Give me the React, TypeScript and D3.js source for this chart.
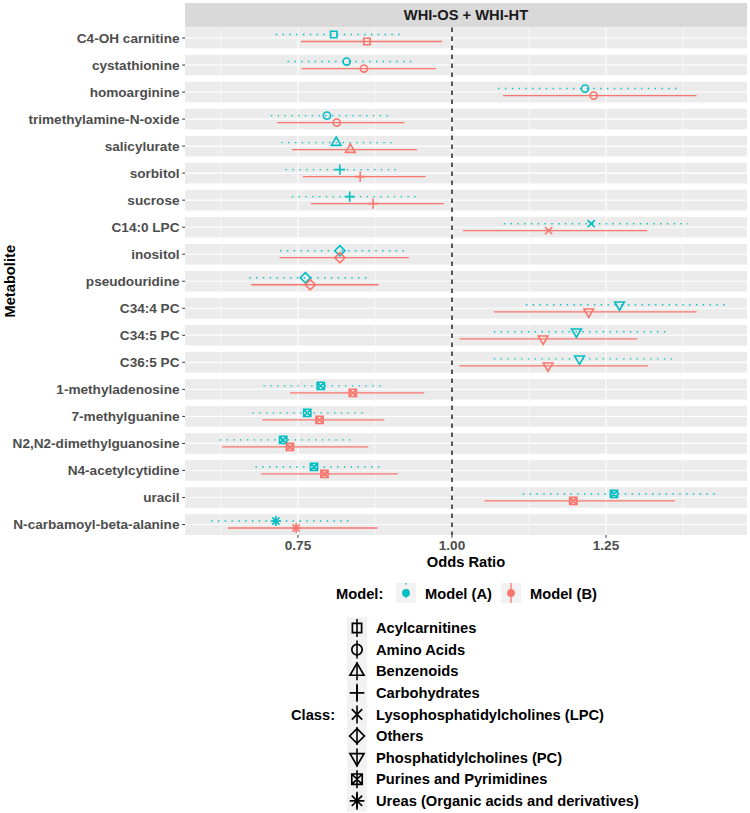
import React from "react";
import * as d3 from "d3";

const metabolites = [
  "C4-OH carnitine",
  "cystathionine",
  "homoarginine",
  "trimethylamine-N-oxide",
  "salicylurate",
  "sorbitol",
  "sucrose",
  "C14:0 LPC",
  "inositol",
  "pseudouridine",
  "C34:4 PC",
  "C34:5 PC",
  "C36:5 PC",
  "1-methyladenosine",
  "7-methylguanine",
  "N2,N2-dimethylguanosine",
  "N4-acetylcytidine",
  "uracil",
  "N-carbamoyl-beta-alanine",
];

const metaboliteClass = [
  "Acylcarnitines",
  "Amino Acids",
  "Amino Acids",
  "Amino Acids",
  "Benzenoids",
  "Carbohydrates",
  "Carbohydrates",
  "Lysophosphatidylcholines (LPC)",
  "Others",
  "Others",
  "Phosphatidylcholines (PC)",
  "Phosphatidylcholines (PC)",
  "Phosphatidylcholines (PC)",
  "Purines and Pyrimidines",
  "Purines and Pyrimidines",
  "Purines and Pyrimidines",
  "Purines and Pyrimidines",
  "Purines and Pyrimidines",
  "Ureas (Organic acids and derivatives)",
];

// Model (A)
const orA = [0.808, 0.829, 1.216, 0.797, 0.812, 0.818, 0.834, 1.226, 0.818, 0.762, 1.272, 1.202, 1.207, 0.787, 0.765, 0.726, 0.776, 1.263, 0.714];
const loA = [0.714, 0.733, 1.075, 0.706, 0.723, 0.730, 0.740, 1.084, 0.721, 0.671, 1.120, 1.068, 1.068, 0.694, 0.676, 0.623, 0.681, 1.115, 0.609];
const hiA = [0.915, 0.937, 1.373, 0.899, 0.908, 0.915, 0.941, 1.383, 0.923, 0.864, 1.444, 1.350, 1.358, 0.888, 0.861, 0.843, 0.882, 1.430, 0.837];
// Model (B)
const orB = [0.862, 0.857, 1.230, 0.813, 0.835, 0.851, 0.872, 1.157, 0.818, 0.770, 1.222, 1.148, 1.156, 0.839, 0.785, 0.737, 0.793, 1.197, 0.747];
const loB = [0.755, 0.756, 1.083, 0.716, 0.740, 0.758, 0.771, 1.018, 0.720, 0.674, 1.068, 1.012, 1.012, 0.737, 0.692, 0.627, 0.690, 1.053, 0.636];
const hiB = [0.984, 0.974, 1.397, 0.923, 0.943, 0.957, 0.987, 1.317, 0.930, 0.881, 1.397, 1.301, 1.318, 0.955, 0.890, 0.864, 0.912, 1.362, 0.879];

const classNames = [
  "Acylcarnitines",
  "Amino Acids",
  "Benzenoids",
  "Carbohydrates",
  "Lysophosphatidylcholines (LPC)",
  "Others",
  "Phosphatidylcholines (PC)",
  "Purines and Pyrimidines",
  "Ureas (Organic acids and derivatives)",
];
const classShapes = ["square", "circle", "triUp", "plus", "times", "diamond", "triDown", "squareX", "asterisk"];

const modelNames = ["Model (A)", "Model (B)"];
const modelColors = ["#00BFC4", "#F8766D"];

const majorTicks = [0.75, 1.0, 1.25];
const majorTickLabels = ["0.75", "1.00", "1.25"];
const minorTicks = [0.625, 0.875, 1.125, 1.375];

const FONT = "'Liberation Sans', Arial, Helvetica, sans-serif";

function shapePath(kind: string, R: number): string {
  const f = (n: number) => n.toFixed(2);
  switch (kind) {
    case "square": {
      const h = 0.886 * R;
      return `M${f(-h)},${f(-h)}H${f(h)}V${f(h)}H${f(-h)}Z`;
    }
    case "circle":
      return `M${f(R)},0A${f(R)},${f(R)} 0 1,1 ${f(-R)},0A${f(R)},${f(R)} 0 1,1 ${f(R)},0Z`;
    case "triUp": {
      const t = 1.555 * R, b = 0.778 * R, w = 1.347 * R;
      return `M0,${f(-t)}L${f(w)},${f(b)}L${f(-w)},${f(b)}Z`;
    }
    case "triDown": {
      const t = 1.555 * R, b = 0.778 * R, w = 1.347 * R;
      return `M0,${f(t)}L${f(w)},${f(-b)}L${f(-w)},${f(-b)}Z`;
    }
    case "plus": {
      const a = 1.414 * R;
      return `M${f(-a)},0H${f(a)}M0,${f(-a)}V${f(a)}`;
    }
    case "times":
      return `M${f(-R)},${f(-R)}L${f(R)},${f(R)}M${f(-R)},${f(R)}L${f(R)},${f(-R)}`;
    case "diamond": {
      const a = 1.414 * R;
      return `M0,${f(-a)}L${f(a)},0L0,${f(a)}L${f(-a)},0Z`;
    }
    case "squareX":
      return `M${f(-R)},${f(-R)}H${f(R)}V${f(R)}H${f(-R)}Z M${f(-R)},${f(-R)}L${f(R)},${f(R)}M${f(-R)},${f(R)}L${f(R)},${f(-R)}`;
    case "asterisk": {
      const a = 1.414 * R;
      return `M${f(-R)},${f(-R)}L${f(R)},${f(R)}M${f(-R)},${f(R)}L${f(R)},${f(-R)}M${f(-a)},0H${f(a)}M0,${f(-a)}V${f(a)}`;
    }
  }
  return "";
}

export default function App() {
  const W = 750, H = 813;
  const panelL = 185, panelR = 747, panelT = 27.5, panelB = 535;
  const x = d3.scaleLinear().domain([0.5666, 1.4789]).range([panelL, panelR]);
  const y = d3.scalePoint<string>().domain(metabolites).range([38, 524.5]);
  const step = y.step();
  const bandHalf = 10.3;
  const dodge = 3.5;
  const shapeOf = (c: string) => classShapes[classNames.indexOf(c)];

  const plotR = 3.6;
  const legR = 5.2;

  const classRowY = (i: number) => 628 + i * 21.6;

  return (
    <svg width={W} height={H} style={{ position: "absolute", left: 0, top: 0, background: "#fff" }} fontFamily={FONT} fontWeight="bold">
      {/* strip */}
      <rect x={panelL} y={3} width={panelR - panelL} height={24.3} fill="#D9D9D9" />
      <text x={(panelL + panelR) / 2} y={20.2} textAnchor="middle" fontSize={14.7} fill="#1A1A1A">WHI-OS + WHI-HT</text>

      {/* panel background */}
      <rect x={panelL} y={panelT} width={panelR - panelL} height={panelB - panelT} fill="#EBEBEB" />
      {/* vertical grid */}
      {minorTicks.map((t) => (
        <line key={"mn" + t} x1={x(t)} x2={x(t)} y1={panelT} y2={panelB} stroke="#fff" strokeWidth={0.6} />
      ))}
      {majorTicks.map((t) => (
        <line key={"mj" + t} x1={x(t)} x2={x(t)} y1={panelT} y2={panelB} stroke="#fff" strokeWidth={1.1} />
      ))}
      {/* horizontal grid at categories */}
      {metabolites.map((m) => (
        <line key={"hg" + m} x1={panelL} x2={panelR} y1={y(m)!} y2={y(m)!} stroke="#fff" strokeWidth={1.1} />
      ))}
      {/* white gaps between metabolite bands */}
      {metabolites.slice(0, -1).map((m) => (
        <rect key={"gap" + m} x={panelL} y={y(m)! + bandHalf} width={panelR - panelL} height={step - 2 * bandHalf} fill="#fff" />
      ))}

      {/* reference line */}
      <line x1={x(1)} x2={x(1)} y1={panelT} y2={panelB} stroke="#000" strokeWidth={1.3} strokeDasharray="4.5 4.5" />

      {/* estimates */}
      {metabolites.map((m, i) => {
        const cy = y(m)!;
        const shp = shapeOf(metaboliteClass[i]);
        const yA = cy - dodge, yB = cy + dodge;
        return (
          <g key={"est" + m}>
            <line x1={x(loA[i])} x2={x(hiA[i])} y1={yA} y2={yA} stroke={modelColors[0]} strokeWidth={1.4} strokeDasharray="1.4 5.4" />
            <path d={shapePath(shp, plotR)} transform={`translate(${x(orA[i])},${yA})`} fill="none" stroke={modelColors[0]} strokeWidth={1.6} />
            <line x1={x(loB[i])} x2={x(hiB[i])} y1={yB} y2={yB} stroke={modelColors[1]} strokeWidth={1.3} />
            <path d={shapePath(shp, plotR)} transform={`translate(${x(orB[i])},${yB})`} fill="none" stroke={modelColors[1]} strokeWidth={1.6} />
          </g>
        );
      })}

      {/* y axis */}
      {metabolites.map((m) => (
        <g key={"yl" + m}>
          <line x1={panelL - 2.8} x2={panelL} y1={y(m)!} y2={y(m)!} stroke="#333" strokeWidth={1} />
          <text x={panelL - 5.5} y={y(m)!} dy="0.36em" textAnchor="end" fontSize={13.6} fill="#4D4D4D">{m}</text>
        </g>
      ))}
      {/* x axis */}
      {majorTicks.map((t, i) => (
        <g key={"xl" + t}>
          <line x1={x(t)} x2={x(t)} y1={panelB} y2={panelB + 2.8} stroke="#333" strokeWidth={1} />
          <text x={x(t)} y={550} textAnchor="middle" fontSize={13.6} fill="#4D4D4D">{majorTickLabels[i]}</text>
        </g>
      ))}
      <text x={(panelL + panelR) / 2} y={566.5} textAnchor="middle" fontSize={14.7} fill="#000">Odds Ratio</text>
      <text transform={`translate(10,${(panelT + panelB) / 2}) rotate(-90)`} dy="0.36em" textAnchor="middle" fontSize={14.7} fill="#000">Metabolite</text>

      {/* Model legend */}
      <text x={336} y={599} fontSize={14.7} fill="#000">Model:</text>
      {modelNames.map((nm, i) => {
        const kx = i === 0 ? 396 : 501;
        return (
          <g key={"ml" + nm}>
            <rect x={kx} y={583} width={20} height={20} fill="#F2F2F2" />
            <line x1={kx + 10} x2={kx + 10} y1={583} y2={603} stroke={modelColors[i]} strokeWidth={1.3} strokeDasharray={i === 0 ? "1.4 5.4" : undefined} />
            <circle cx={kx + 10} cy={593} r={3.9} fill={modelColors[i]} />
            <text x={kx + 29} y={599} fontSize={14.7} fill="#000">{nm}</text>
          </g>
        );
      })}

      {/* Class legend */}
      <text x={291} y={classRowY(4) + 5.2} fontSize={14.7} fill="#000">Class:</text>
      {classNames.map((c, i) => {
        const cy = classRowY(i);
        return (
          <g key={"cl" + c}>
            <rect x={347} y={cy - 10.8} width={20} height={21.6} fill="#F2F2F2" />
            <line x1={357} x2={357} y1={cy - 9} y2={cy + 9} stroke="#000" strokeWidth={1.6} />
            <path d={shapePath(classShapes[i], legR)} transform={`translate(357,${cy})`} fill="none" stroke="#000" strokeWidth={1.7} />
            <text x={376} y={cy + 5.2} fontSize={14.7} fill="#000">{c}</text>
          </g>
        );
      })}
    </svg>
  );
}
